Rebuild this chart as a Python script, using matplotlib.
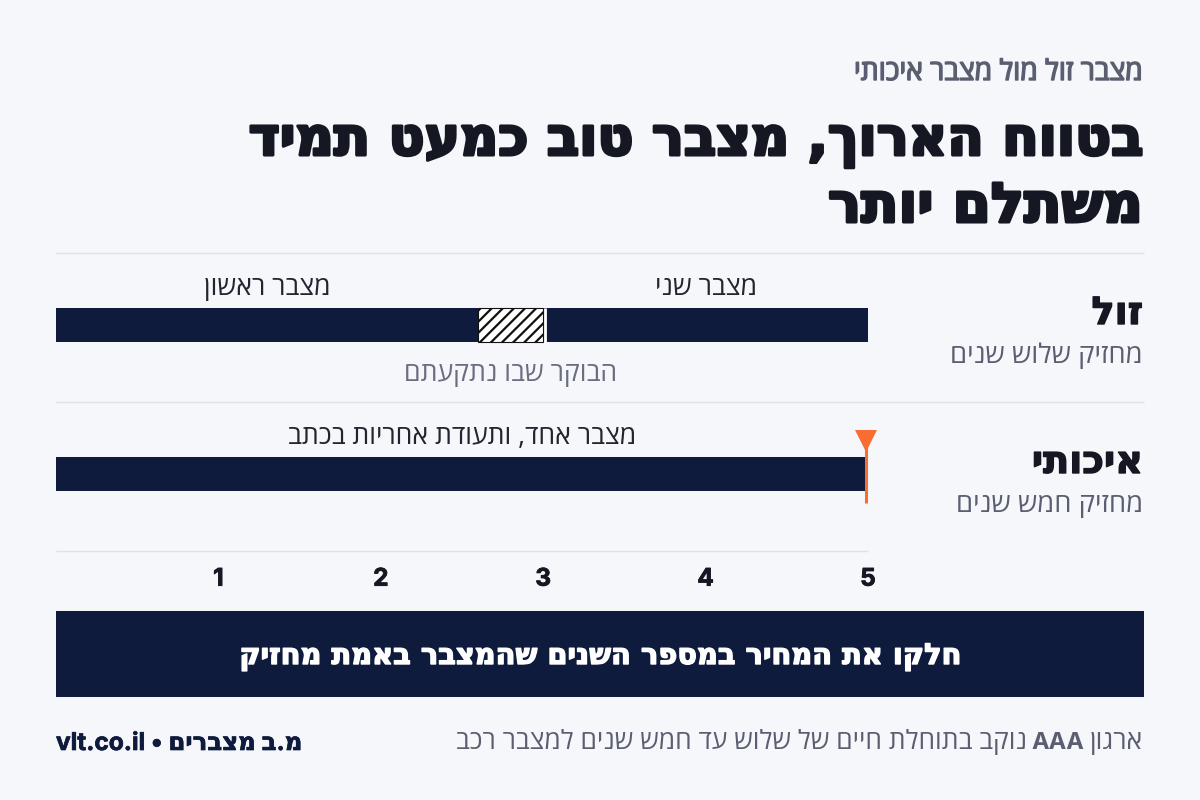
import re
import matplotlib
matplotlib.use("Agg")
import matplotlib.pyplot as plt
import matplotlib.patheffects as pe
from matplotlib.patches import Rectangle

# Data
cheap_starts = [0, 3.0]
cheap_widths = [2.6, 2.0]
cheap_labels = ["מצבר ראשון", "מצבר שני"]
gap_start = 2.6
gap_width = 0.4
gap_label = "הבוקר שבו נתקעתם"
quality_start = 0
quality_width = 5
quality_label = "מצבר אחד, ותעודת אחריות בכתב"
year_ticks = [1, 2, 3, 4, 5]

NAVY = "#0f1b3d"
INK = "#151822"
GREY = "#5a5e70"
RULE = "#dfe0e8"
ORANGE = "#f96c32"
BG = "#f6f7fb"

BODY = ["Open Sans", "DejaVu Sans"]
HEAVY = ["Inter", "DejaVu Sans"]


def rtl(s):
    # matplotlib has no bidi, so put the string in visual order by hand
    out = s[::-1]
    return re.sub(r"[A-Za-z0-9.]*[A-Za-z0-9][A-Za-z0-9.]*", lambda m: m.group(0)[::-1], out)


def thick(w, color):
    return [pe.withStroke(linewidth=w, foreground=color)]


fig = plt.figure(figsize=(12, 8), dpi=100, facecolor=BG)

# overlay in pixels for the page furniture
page = fig.add_axes([0, 0, 1, 1])
page.set_xlim(0, 1200)
page.set_ylim(800, 0)
page.axis("off")

page.text(1143, 80, rtl("מצבר זול מול מצבר איכותי"), family=BODY, fontsize=20.3, color=GREY,
          ha="right", va="baseline", path_effects=thick(1.0, GREY))
page.text(1143, 155, rtl("בטווח הארוך, מצבר טוב כמעט תמיד"), family="DejaVu Sans", fontweight="bold", fontsize=38.2,
          color=INK, ha="right", va="baseline", path_effects=thick(2.2, INK))
page.text(1143, 222, rtl("משתלם יותר"), family="DejaVu Sans", fontweight="bold", fontsize=39.5,
          color=INK, ha="right", va="baseline", path_effects=thick(2.2, INK))

page.plot([56, 1144], [253, 253], color=RULE, lw=1, solid_capstyle="butt")
page.plot([56, 1144], [402, 402], color=RULE, lw=1, solid_capstyle="butt")

page.text(1143, 324, rtl("זול"), family="DejaVu Sans", fontweight="bold", fontsize=27.5, color=INK,
          ha="right", va="baseline", path_effects=thick(1.0, INK))
page.text(1143, 363, rtl("מחזיק שלוש שנים"), family=BODY, fontsize=19.7, color=GREY, ha="right", va="baseline")
page.text(1143, 473, rtl("איכותי"), family="DejaVu Sans", fontweight="bold", fontsize=27.5, color=INK,
          ha="right", va="baseline", path_effects=thick(1.0, INK))
page.text(1143, 512, rtl("מחזיק חמש שנים"), family=BODY, fontsize=19.7, color=GREY, ha="right", va="baseline")

page.add_patch(Rectangle((56, 611), 1088, 86, facecolor=NAVY, edgecolor="none"))
page.text(600, 664, rtl("חלקו את המחיר במספר השנים שהמצבר באמת מחזיק"), family="DejaVu Sans", fontweight="bold",
          fontsize=20.8, color="white", ha="center", va="baseline", path_effects=thick(1.0, "white"))

page.text(1143, 749, rtl("ארגון"), family=BODY, fontsize=19.2, color=GREY, ha="right", va="baseline")
page.text(1084, 749, "AAA", family="Inter", fontweight="bold", fontsize=17, color=GREY, ha="right", va="baseline")
page.text(1027, 749, rtl("נוקב בתוחלת חיים של שלוש עד חמש שנים למצבר רכב"), family=BODY, fontsize=19,
          color=GREY, ha="right", va="baseline")
page.text(56, 750, rtl("מ.ב מצברים • vlt.co.il"), family=HEAVY, fontweight="bold", fontsize=17.6, color=NAVY,
          ha="left", va="baseline", path_effects=thick(0.5, NAVY))

# chart axes: x is years of service
ax = fig.add_axes([56 / 1200, 1 - 551 / 800, (868 - 56) / 1200, (551 - 253) / 800])
ax.patch.set_alpha(0)
ax.set_xlim(0, 5)
ax.set_ylim(551, 253)

plt.rcParams["hatch.linewidth"] = 1.6
ax.barh([325, 325], cheap_widths, left=cheap_starts, height=34, color=NAVY)
ax.barh(325, gap_width, left=gap_start, height=34, facecolor="white", edgecolor="#111111", hatch="///", linewidth=0.8)
ax.plot([3.01, 3.01], [308, 342], color="white", lw=2, solid_capstyle="butt")
ax.barh(474, quality_width, left=quality_start, height=34, color=NAVY)

ax.plot([4.988, 4.988], [447, 503], color=ORANGE, lw=2.2, clip_on=False, solid_capstyle="butt")
ax.plot([4.985], [441], marker="v", color=ORANGE, markersize=16, markeredgewidth=0, clip_on=False)

for start, width, label in zip(cheap_starts, cheap_widths, cheap_labels):
    ax.text(start + width / 2, 295, rtl(label), family=BODY, fontsize=19.2, color="#22252f", ha="center", va="baseline")
ax.text(gap_start + gap_width / 2, 381, rtl(gap_label), family=BODY, fontsize=19.2, color="#6a6e80", ha="center", va="baseline")
ax.text(quality_start + quality_width / 2, 444, rtl(quality_label), family=BODY, fontsize=19.2, color="#22252f", ha="center", va="baseline")

for side in ["top", "left", "right"]:
    ax.spines[side].set_visible(False)
ax.spines["bottom"].set_color(RULE)
ax.spines["bottom"].set_linewidth(1)
ax.spines["bottom"].set_capstyle("butt")
ax.set_yticks([])
ax.set_xticks(year_ticks)
ax.set_xticklabels([str(t) for t in year_ticks], family="Inter", fontweight="bold", fontsize=17.5, color=INK,
                   path_effects=thick(0.6, INK))
ax.tick_params(axis="x", length=0, pad=12)

fig.savefig("out.png", dpi=100, facecolor=BG)
